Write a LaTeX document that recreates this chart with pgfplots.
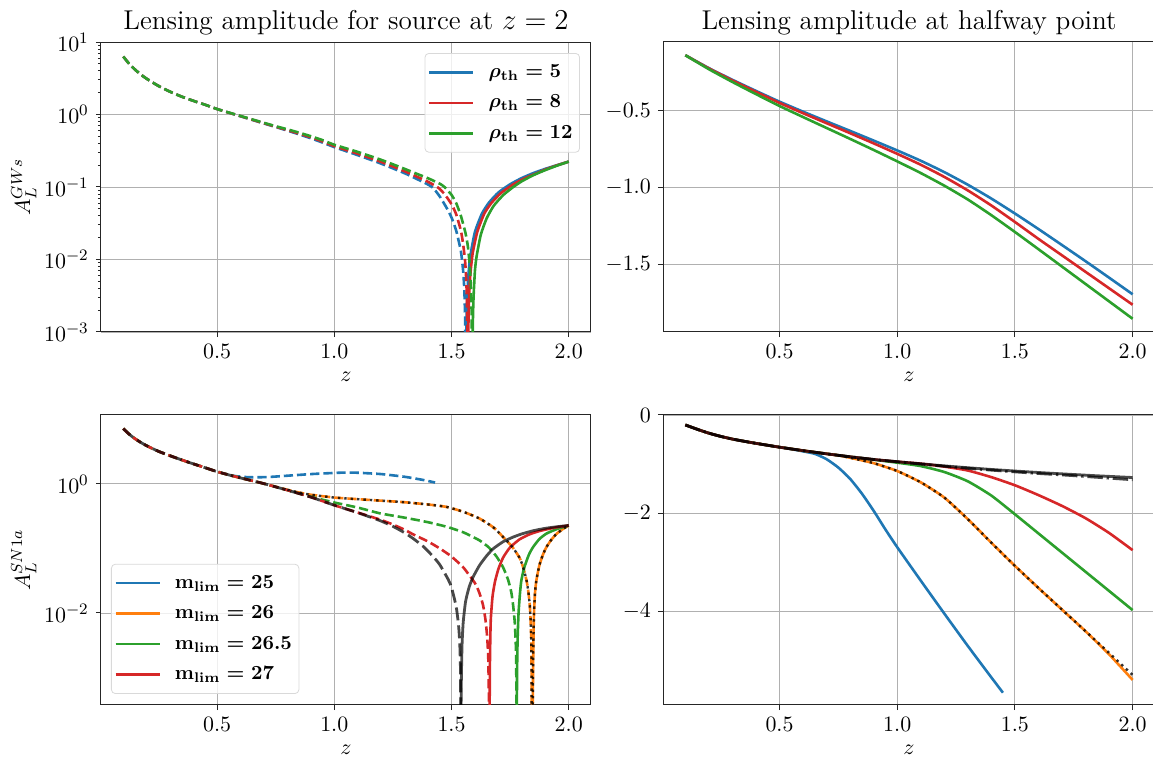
\documentclass[border=0pt]{standalone}
\usepackage{pgfplots}
\pgfplotsset{compat=1.18}
\definecolor{tabblue}{HTML}{1F77B4}
\definecolor{taborange}{HTML}{FF7F0E}
\definecolor{tabgreen}{HTML}{2CA02C}
\definecolor{tabred}{HTML}{D62728}
\definecolor{gridgray}{HTML}{B0B0B0}
\pgfplotsset{
  base/.style={
    width=245pt, height=145pt, scale only axis,
    xmin=0.005, xmax=2.095,
    xtick={0.5,1,1.5,2},
    xticklabel style={/pgf/number format/.cd, fixed, fixed zerofill, precision=1},
    grid=major, grid style={color=gridgray, line width=0.45pt},
    axis line style={line width=0.5pt, black!85},
    tick style={black!85, line width=0.5pt},
    tick align=outside, major tick length=2.6pt, minor tick length=1.5pt,
    xtick pos=bottom, ytick pos=left,
    xlabel={$z$},
    ticklabel style={font=\fontsize{11.4}{13}\selectfont},
    label style={font=\fontsize{11.4}{13}\selectfont},
    ylabel style={yshift=-3pt},
    title style={font=\fontsize{13.6}{16}\selectfont, yshift=-6pt},
    every axis plot/.append style={line width=1.3pt, smooth, tension=0.35},
    legend cell align=left,
    legend image code/.code={\draw[##1, line width=1.3pt, solid] (0pt,0pt) -- (22pt,0pt);},
    legend style={draw=black!15, rounded corners=2pt, fill=white, fill opacity=0.8, text opacity=1,
      font=\fontsize{10}{12}\selectfont\boldmath, row sep=3.3pt, column sep=5pt, inner xsep=1.5pt, inner ysep=3.5pt},
  },
  mdash/.style={dash pattern=on 4.6pt off 2pt},
  kdash/.style={draw=black, draw opacity=0.72, line width=1.4pt, dash pattern=on 6.5pt off 2.5pt},
  kdot/.style={draw=black, draw opacity=0.8, line width=1.2pt, dash pattern=on 1.2pt off 2pt},
  ksolid/.style={draw=black, draw opacity=0.7, line width=1.4pt},
  kdashdot/.style={draw=black, draw opacity=0.72, line width=1.4pt, dash pattern=on 7.7pt off 1.9pt on 1.2pt off 1.9pt},
}
\begin{document}
\begin{tikzpicture}[x=1pt,y=1pt]
\useasboundingbox (0,0) rectangle (576.5,379);
% ---------------- top left
\begin{axis}[base, at={(50.5pt,213pt)}, anchor=south west,
  ymode=log, ymin=1e-3, ymax=10, ytick={1e-3,1e-2,1e-1,1,10},
  ylabel={$A_L^{GW s}$},
  title={Lensing amplitude for source at $z=2$},
  legend style={at={(1,1)}, anchor=north east, xshift=-5.5pt, yshift=-5.5pt}]
\addlegendimage{tabblue}\addlegendentry{$\rho_{\rm th}=5$}
\addlegendimage{tabred}\addlegendentry{$\rho_{\rm th}=8$}
\addlegendimage{tabgreen}\addlegendentry{$\rho_{\rm th}=12$}
% blue
\addplot[tabblue, mdash, forget plot] coordinates {(0.10,6.3)(0.125,5.01)(0.15,4.17)(0.175,3.56)(0.20,3.11)(0.25,2.48)(0.30,2.06)(0.35,1.76)(0.40,1.54)(0.45,1.36)(0.50,1.19)(0.55,1.06)(0.60,0.945)(0.67,0.805)(0.75,0.672)(0.80,0.60)(0.85,0.532)(0.90,0.47)(0.95,0.41)(1.00,0.355)(1.10,0.275)(1.20,0.21)(1.30,0.155)(1.35,0.13)(1.40,0.108)(1.422,0.097)(1.45,0.074)(1.48,0.051)(1.50,0.038)(1.52,0.025)(1.54,0.013)(1.55,0.0068)(1.555,0.0036)(1.558,0.0015)(1.5595,0.0003)};
\addplot[tabblue, forget plot] coordinates {(1.562,0.0003)(1.564,0.0012)(1.567,0.003)(1.572,0.006)(1.58,0.011)(1.60,0.024)(1.63,0.043)(1.66,0.061)(1.70,0.084)(1.75,0.109)(1.80,0.133)(1.85,0.156)(1.90,0.178)(1.95,0.20)(2.00,0.224)};
% red
\addplot[tabred, mdash, forget plot] coordinates {(0.10,6.3)(0.125,5.01)(0.15,4.17)(0.175,3.56)(0.20,3.11)(0.25,2.48)(0.30,2.06)(0.35,1.76)(0.40,1.54)(0.45,1.36)(0.50,1.19)(0.55,1.06)(0.60,0.95)(0.67,0.81)(0.75,0.68)(0.80,0.61)(0.85,0.545)(0.90,0.485)(0.95,0.425)(1.00,0.367)(1.10,0.288)(1.20,0.222)(1.30,0.165)(1.35,0.14)(1.40,0.118)(1.443,0.098)(1.47,0.08)(1.50,0.058)(1.52,0.042)(1.54,0.025)(1.55,0.016)(1.558,0.0095)(1.563,0.0052)(1.566,0.0025)(1.568,0.0009)(1.5688,0.0003)};
\addplot[tabred, forget plot] coordinates {(1.570,0.0003)(1.572,0.0012)(1.575,0.003)(1.58,0.006)(1.59,0.012)(1.61,0.024)(1.64,0.043)(1.67,0.06)(1.71,0.082)(1.76,0.107)(1.81,0.131)(1.86,0.153)(1.90,0.174)(1.95,0.199)(2.00,0.224)};
% green
\addplot[tabgreen, mdash, forget plot] coordinates {(0.10,6.3)(0.125,5.01)(0.15,4.17)(0.175,3.56)(0.20,3.11)(0.25,2.48)(0.30,2.06)(0.35,1.76)(0.40,1.54)(0.45,1.36)(0.50,1.19)(0.55,1.065)(0.60,0.955)(0.67,0.82)(0.75,0.69)(0.80,0.625)(0.85,0.562)(0.90,0.502)(0.95,0.443)(1.00,0.383)(1.10,0.305)(1.20,0.237)(1.30,0.178)(1.35,0.153)(1.40,0.132)(1.45,0.111)(1.47,0.1)(1.50,0.078)(1.52,0.06)(1.54,0.04)(1.56,0.023)(1.57,0.015)(1.578,0.0082)(1.583,0.0041)(1.586,0.0017)(1.5875,0.0003)};
\addplot[tabgreen, forget plot] coordinates {(1.589,0.0003)(1.591,0.0013)(1.594,0.003)(1.60,0.007)(1.607,0.011)(1.625,0.022)(1.65,0.037)(1.68,0.055)(1.72,0.077)(1.76,0.098)(1.80,0.12)(1.85,0.146)(1.90,0.171)(1.95,0.197)(2.00,0.224)};
\end{axis}
% ---------------- top right
\begin{axis}[base, at={(331.5pt,213pt)}, anchor=south west, width=246pt,
  ymin=-1.937, ymax=-0.052, ytick={-1.5,-1,-0.5},
  yticklabel style={/pgf/number format/.cd, fixed, fixed zerofill, precision=1},
  title={Lensing amplitude at halfway point}]
\addplot[tabblue] coordinates {(0.1,-0.138)(0.2,-0.222)(0.3,-0.298)(0.4,-0.370)(0.5,-0.440)(0.6,-0.505)(0.7,-0.568)(0.8,-0.630)(0.9,-0.693)(1.0,-0.757)(1.1,-0.824)(1.2,-0.898)(1.3,-0.980)(1.4,-1.070)(1.5,-1.167)(1.6,-1.268)(1.7,-1.372)(1.8,-1.477)(1.9,-1.584)(2.0,-1.692)};
\addplot[tabred] coordinates {(0.1,-0.138)(0.2,-0.224)(0.3,-0.302)(0.4,-0.376)(0.5,-0.448)(0.6,-0.515)(0.7,-0.580)(0.8,-0.645)(0.9,-0.711)(1.0,-0.779)(1.1,-0.850)(1.2,-0.929)(1.3,-1.017)(1.4,-1.115)(1.5,-1.222)(1.6,-1.332)(1.7,-1.439)(1.8,-1.546)(1.9,-1.653)(2.0,-1.760)};
\addplot[tabgreen] coordinates {(0.1,-0.138)(0.2,-0.229)(0.3,-0.312)(0.4,-0.391)(0.5,-0.468)(0.6,-0.540)(0.7,-0.611)(0.8,-0.682)(0.9,-0.754)(1.0,-0.828)(1.1,-0.904)(1.2,-0.986)(1.3,-1.076)(1.4,-1.178)(1.5,-1.287)(1.6,-1.399)(1.7,-1.512)(1.8,-1.625)(1.9,-1.738)(2.0,-1.851)};
\end{axis}
% ---------------- bottom left
\begin{axis}[base, at={(50.5pt,26.5pt)}, anchor=south west,
  ymode=log, ymin=3.75e-4, ymax=11.7, ytick={1e-2,1}, yminorticks=false,
  ylabel={$A_L^{SN1a}$},
  legend style={at={(0,0)}, anchor=south west, xshift=5pt, yshift=5.5pt}]
\addlegendimage{tabblue}\addlegendentry{$\mathrm{m}_{\rm lim}=25$}
\addlegendimage{taborange}\addlegendentry{$\mathrm{m}_{\rm lim}=26$}
\addlegendimage{tabgreen}\addlegendentry{$\mathrm{m}_{\rm lim}=26.5$}
\addlegendimage{tabred}\addlegendentry{$\mathrm{m}_{\rm lim}=27$}
% blue
\addplot[tabblue, mdash, forget plot] coordinates {(0.10,7.2)(0.125,5.9)(0.15,5.02)(0.175,4.39)(0.20,3.9)(0.25,3.2)(0.30,2.73)(0.35,2.35)(0.40,2.04)(0.45,1.78)(0.50,1.55)(0.55,1.39)(0.58,1.32)(0.62,1.28)(0.66,1.265)(0.72,1.28)(0.80,1.34)(0.90,1.42)(1.00,1.48)(1.05,1.50)(1.10,1.49)(1.20,1.42)(1.30,1.29)(1.38,1.15)(1.43,1.05)};
% orange
\addplot[taborange, mdash, forget plot] coordinates {(0.10,7.2)(0.125,5.9)(0.15,5.02)(0.175,4.39)(0.20,3.9)(0.25,3.2)(0.30,2.73)(0.35,2.35)(0.40,2.04)(0.45,1.78)(0.50,1.55)(0.55,1.38)(0.60,1.24)(0.65,1.12)(0.70,1.01)(0.75,0.905)(0.80,0.81)(0.85,0.735)(0.90,0.68)(1.0,0.615)(1.1,0.58)(1.2,0.55)(1.3,0.52)(1.4,0.48)(1.479,0.44)(1.55,0.37)(1.62,0.29)(1.68,0.21)(1.734,0.133)(1.76,0.105)(1.79,0.072)(1.805,0.052)(1.82,0.032)(1.828,0.021)(1.834,0.013)(1.838,0.007)(1.8405,0.0033)(1.8415,0.0013)(1.842,0.0003)};
\addplot[taborange, forget plot] coordinates {(1.8465,0.0003)(1.848,0.0015)(1.850,0.005)(1.852,0.01)(1.856,0.02)(1.862,0.032)(1.875,0.055)(1.89,0.08)(1.905,0.105)(1.925,0.135)(1.947,0.167)(1.975,0.2)(2.0,0.227)};
% green
\addplot[tabgreen, mdash, forget plot] coordinates {(0.10,7.2)(0.125,5.9)(0.15,5.02)(0.175,4.39)(0.20,3.9)(0.25,3.2)(0.30,2.73)(0.35,2.35)(0.40,2.04)(0.45,1.78)(0.50,1.55)(0.55,1.38)(0.60,1.24)(0.65,1.12)(0.70,1.01)(0.75,0.90)(0.80,0.80)(0.85,0.71)(0.90,0.635)(0.95,0.57)(1.0,0.515)(1.1,0.43)(1.195,0.35)(1.30,0.30)(1.40,0.255)(1.479,0.217)(1.55,0.178)(1.62,0.133)(1.66,0.103)(1.692,0.075)(1.72,0.051)(1.741,0.033)(1.755,0.021)(1.763,0.013)(1.77,0.007)(1.774,0.0035)(1.776,0.0016)(1.7775,0.0003)};
\addplot[tabgreen, forget plot] coordinates {(1.7785,0.0003)(1.780,0.0015)(1.782,0.004)(1.786,0.01)(1.792,0.02)(1.798,0.032)(1.81,0.05)(1.83,0.08)(1.848,0.105)(1.875,0.14)(1.905,0.17)(1.95,0.2)(2.0,0.227)};
% red
\addplot[tabred, mdash, forget plot] coordinates {(0.10,7.2)(0.125,5.9)(0.15,5.02)(0.175,4.39)(0.20,3.9)(0.25,3.2)(0.30,2.73)(0.35,2.35)(0.40,2.04)(0.45,1.78)(0.50,1.55)(0.55,1.38)(0.60,1.24)(0.65,1.12)(0.70,1.01)(0.75,0.90)(0.80,0.80)(0.90,0.625)(1.00,0.468)(1.10,0.36)(1.195,0.28)(1.25,0.235)(1.30,0.195)(1.337,0.165)(1.40,0.128)(1.45,0.1)(1.479,0.085)(1.50,0.075)(1.55,0.051)(1.60,0.029)(1.62,0.02)(1.635,0.013)(1.645,0.0078)(1.652,0.0043)(1.657,0.0019)(1.6605,0.0003)};
\addplot[tabred, forget plot] coordinates {(1.6625,0.0003)(1.664,0.0018)(1.666,0.005)(1.668,0.0085)(1.675,0.018)(1.685,0.03)(1.70,0.048)(1.72,0.072)(1.749,0.103)(1.79,0.138)(1.834,0.166)(1.88,0.188)(1.94,0.21)(2.0,0.227)};
% black reference
\addplot[kdash, forget plot] coordinates {(0.10,7.2)(0.125,5.9)(0.15,5.02)(0.175,4.39)(0.20,3.9)(0.25,3.2)(0.30,2.73)(0.35,2.35)(0.40,2.04)(0.45,1.78)(0.50,1.55)(0.55,1.38)(0.60,1.24)(0.65,1.12)(0.70,1.01)(0.75,0.90)(0.80,0.80)(0.90,0.625)(1.00,0.468)(1.10,0.358)(1.195,0.27)(1.25,0.22)(1.30,0.175)(1.337,0.142)(1.38,0.107)(1.42,0.076)(1.45,0.056)(1.486,0.033)(1.50,0.025)(1.52,0.0125)(1.53,0.0065)(1.535,0.0035)(1.538,0.0015)(1.5395,0.0003)};
\addplot[ksolid, forget plot] coordinates {(1.5405,0.0003)(1.542,0.0009)(1.545,0.0032)(1.55,0.0072)(1.56,0.015)(1.575,0.025)(1.592,0.036)(1.62,0.055)(1.65,0.077)(1.678,0.099)(1.72,0.127)(1.763,0.15)(1.80,0.168)(1.848,0.188)(1.90,0.205)(1.95,0.217)(2.0,0.227)};
% black dotted on orange
\addplot[kdot, forget plot] coordinates {(0.80,0.81)(0.85,0.735)(0.90,0.68)(1.0,0.615)(1.1,0.58)(1.2,0.55)(1.3,0.52)(1.4,0.48)(1.479,0.44)(1.55,0.37)(1.62,0.29)(1.68,0.21)(1.734,0.133)(1.76,0.105)(1.79,0.072)(1.805,0.052)(1.82,0.032)(1.828,0.021)(1.834,0.013)(1.838,0.007)(1.8405,0.0033)(1.8415,0.0013)(1.842,0.0003)};
\addplot[kdot, forget plot] coordinates {(1.8465,0.0003)(1.848,0.0015)(1.850,0.005)(1.852,0.01)(1.856,0.02)(1.862,0.032)(1.875,0.055)(1.89,0.08)(1.905,0.105)(1.925,0.135)(1.947,0.167)(1.975,0.2)(2.0,0.227)};
\end{axis}
% ---------------- bottom right
\begin{axis}[base, at={(331.5pt,26.5pt)}, anchor=south west, width=246pt,
  ymin=-5.9, ymax=0, ytick={-4,-2,0}]
\addplot[tabblue] coordinates {(0.10,-0.203)(0.15,-0.29)(0.20,-0.37)(0.25,-0.435)(0.30,-0.49)(0.35,-0.535)(0.40,-0.577)(0.50,-0.655)(0.53,-0.677)(0.56,-0.703)(0.60,-0.74)(0.65,-0.79)(0.70,-0.9)(0.75,-1.07)(0.80,-1.3)(0.85,-1.6)(0.90,-1.95)(0.95,-2.33)(1.0,-2.69)(1.1,-3.37)(1.2,-4.04)(1.3,-4.70)(1.4,-5.34)(1.449,-5.65)};
\addplot[taborange] coordinates {(0.10,-0.203)(0.15,-0.29)(0.20,-0.37)(0.25,-0.435)(0.30,-0.49)(0.35,-0.535)(0.40,-0.577)(0.50,-0.655)(0.60,-0.725)(0.70,-0.79)(0.75,-0.822)(0.8,-0.87)(0.9,-0.98)(1.0,-1.14)(1.1,-1.37)(1.2,-1.68)(1.3,-2.12)(1.4,-2.6)(1.5,-3.07)(1.6,-3.52)(1.7,-3.96)(1.8,-4.4)(1.9,-4.87)(2.0,-5.39)};
\addplot[tabgreen] coordinates {(0.10,-0.203)(0.15,-0.29)(0.20,-0.37)(0.25,-0.435)(0.30,-0.49)(0.35,-0.535)(0.40,-0.577)(0.50,-0.655)(0.60,-0.725)(0.70,-0.79)(0.80,-0.85)(0.85,-0.878)(0.9,-0.91)(1.0,-0.97)(1.1,-1.04)(1.2,-1.16)(1.3,-1.35)(1.4,-1.64)(1.5,-2.02)(1.6,-2.41)(1.7,-2.80)(1.8,-3.19)(1.9,-3.58)(2.0,-3.97)};
\addplot[tabred] coordinates {(0.10,-0.203)(0.15,-0.29)(0.20,-0.37)(0.25,-0.435)(0.30,-0.49)(0.35,-0.535)(0.40,-0.577)(0.50,-0.655)(0.60,-0.725)(0.70,-0.79)(0.80,-0.85)(0.90,-0.905)(1.00,-0.95)(1.1,-0.99)(1.2,-1.05)(1.3,-1.13)(1.4,-1.265)(1.5,-1.43)(1.6,-1.63)(1.7,-1.85)(1.8,-2.1)(1.9,-2.4)(2.0,-2.75)};
\addplot[ksolid] coordinates {(0.10,-0.203)(0.15,-0.29)(0.20,-0.37)(0.25,-0.435)(0.30,-0.49)(0.35,-0.535)(0.40,-0.577)(0.50,-0.655)(0.60,-0.725)(0.70,-0.79)(0.80,-0.85)(0.90,-0.905)(1.00,-0.95)(1.10,-0.993)(1.20,-1.035)(1.30,-1.073)(1.40,-1.108)(1.50,-1.14)(1.60,-1.17)(1.72,-1.203)(1.85,-1.237)(2.0,-1.272)};
\addplot[kdashdot] coordinates {(0.10,-0.203)(0.15,-0.29)(0.20,-0.37)(0.25,-0.435)(0.30,-0.49)(0.35,-0.535)(0.40,-0.577)(0.50,-0.655)(0.60,-0.725)(0.70,-0.79)(0.80,-0.85)(0.90,-0.905)(1.00,-0.952)(1.10,-0.998)(1.20,-1.043)(1.30,-1.085)(1.40,-1.122)(1.50,-1.157)(1.60,-1.19)(1.72,-1.225)(1.85,-1.268)(2.0,-1.318)};
\addplot[kdot] coordinates {(0.75,-0.822)(0.8,-0.87)(0.9,-0.98)(1.0,-1.14)(1.1,-1.37)(1.2,-1.68)(1.3,-2.12)(1.4,-2.6)(1.5,-3.07)(1.6,-3.52)(1.7,-3.96)(1.8,-4.4)(1.9,-4.84)(2.0,-5.29)};
\end{axis}
\end{tikzpicture}
\end{document}
